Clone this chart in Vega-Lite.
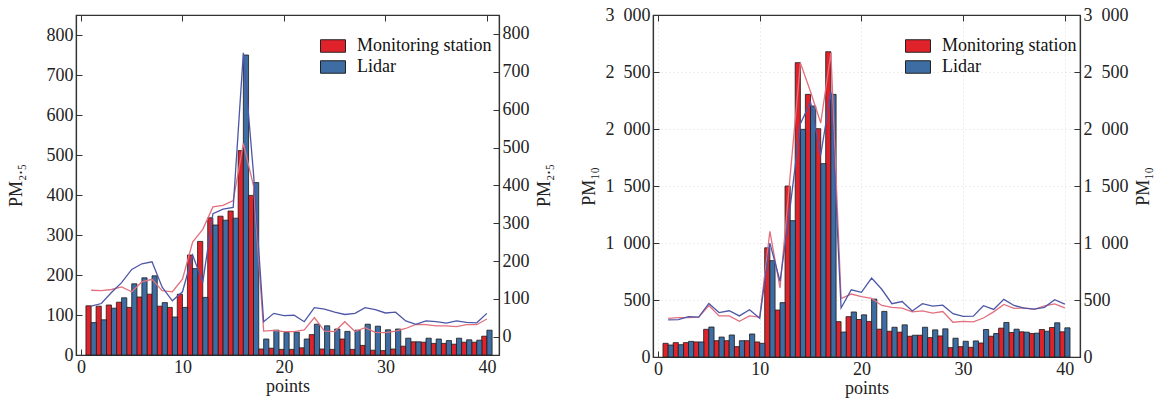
{
  "$schema": "https://vega.github.io/schema/vega-lite/v6.json",
  "padding": {"left": 6, "right": 2, "top": 5, "bottom": 2},
  "background": "white",
  "config": {
    "font": "'Liberation Serif', 'DejaVu Serif', serif",
    "view": {"stroke": "#333", "strokeWidth": 1.2},
    "axis": {
      "labelFont": "'Liberation Serif', 'DejaVu Serif', serif", "labelFontSize": 18, "labelColor": "#222",
      "titleFont": "'Liberation Serif', 'DejaVu Serif', serif", "titleFontSize": 18, "titleFontWeight": "normal", "titleColor": "#222",
      "domainColor": "#333", "domainWidth": 1.2, "tickColor": "#333", "tickSize": -6, "labelPadding": 9, "grid": false
    },
    "legend": {
      "labelFont": "'Liberation Serif', 'DejaVu Serif', serif", "labelFontSize": 18, "labelColor": "#111",
      "symbolType": "M-2,-1H2V1H-2Z", "symbolSize": 156, "symbolStrokeColor": "#222", "symbolStrokeWidth": 1,
      "symbolOpacity": 1, "rowPadding": 3, "labelOffset": 15, "padding": 0
    }
  },
  "datasets": {
    "pm25": [
      {"point": 1, "station": 123, "lidar": 81},
      {"point": 2, "station": 122, "lidar": 88},
      {"point": 3, "station": 125, "lidar": 117},
      {"point": 4, "station": 132, "lidar": 143},
      {"point": 5, "station": 119, "lidar": 178},
      {"point": 6, "station": 145, "lidar": 193},
      {"point": 7, "station": 152, "lidar": 198},
      {"point": 8, "station": 122, "lidar": 131},
      {"point": 9, "station": 119, "lidar": 95},
      {"point": 10, "station": 152, "lidar": 119},
      {"point": 11, "station": 250, "lidar": 216},
      {"point": 12, "station": 284, "lidar": 144},
      {"point": 13, "station": 343, "lidar": 325},
      {"point": 14, "station": 347, "lidar": 337},
      {"point": 15, "station": 360, "lidar": 342},
      {"point": 16, "station": 511, "lidar": 750},
      {"point": 17, "station": 399, "lidar": 431},
      {"point": 18, "station": 15, "lidar": 40},
      {"point": 19, "station": 17, "lidar": 62},
      {"point": 20, "station": 14, "lidar": 56},
      {"point": 21, "station": 14, "lidar": 57},
      {"point": 22, "station": 18, "lidar": 40},
      {"point": 23, "station": 51, "lidar": 77},
      {"point": 24, "station": 15, "lidar": 73},
      {"point": 25, "station": 14, "lidar": 65},
      {"point": 26, "station": 40, "lidar": 59},
      {"point": 27, "station": 14, "lidar": 62},
      {"point": 28, "station": 24, "lidar": 77},
      {"point": 29, "station": 12, "lidar": 72},
      {"point": 30, "station": 11, "lidar": 63},
      {"point": 31, "station": 15, "lidar": 65},
      {"point": 32, "station": 22, "lidar": 42},
      {"point": 33, "station": 33, "lidar": 33},
      {"point": 34, "station": 32, "lidar": 42},
      {"point": 35, "station": 29, "lidar": 40},
      {"point": 36, "station": 29, "lidar": 36},
      {"point": 37, "station": 27, "lidar": 42},
      {"point": 38, "station": 32, "lidar": 38},
      {"point": 39, "station": 32, "lidar": 37},
      {"point": 40, "station": 47, "lidar": 62}
    ],
    "pm10": [
      {"point": 1, "station": 120, "lidar": 105},
      {"point": 2, "station": 126, "lidar": 108},
      {"point": 3, "station": 126, "lidar": 137},
      {"point": 4, "station": 132, "lidar": 132},
      {"point": 5, "station": 243, "lidar": 263},
      {"point": 6, "station": 143, "lidar": 175},
      {"point": 7, "station": 143, "lidar": 193},
      {"point": 8, "station": 91, "lidar": 143},
      {"point": 9, "station": 143, "lidar": 202},
      {"point": 10, "station": 132, "lidar": 120},
      {"point": 11, "station": 958, "lidar": 845},
      {"point": 12, "station": 412, "lidar": 477},
      {"point": 13, "station": 1500, "lidar": 1196},
      {"point": 14, "station": 2582, "lidar": 1997},
      {"point": 15, "station": 2304, "lidar": 2202},
      {"point": 16, "station": 2003, "lidar": 1696},
      {"point": 17, "station": 2678, "lidar": 2304},
      {"point": 18, "station": 310, "lidar": 219},
      {"point": 19, "station": 354, "lidar": 395},
      {"point": 20, "station": 329, "lidar": 370},
      {"point": 21, "station": 312, "lidar": 508},
      {"point": 22, "station": 244, "lidar": 400},
      {"point": 23, "station": 226, "lidar": 261},
      {"point": 24, "station": 218, "lidar": 282},
      {"point": 25, "station": 182, "lidar": 191},
      {"point": 26, "station": 191, "lidar": 261},
      {"point": 27, "station": 170, "lidar": 238},
      {"point": 28, "station": 185, "lidar": 247},
      {"point": 29, "station": 82, "lidar": 165},
      {"point": 30, "station": 91, "lidar": 138},
      {"point": 31, "station": 85, "lidar": 141},
      {"point": 32, "station": 123, "lidar": 241},
      {"point": 33, "station": 182, "lidar": 206},
      {"point": 34, "station": 253, "lidar": 303},
      {"point": 35, "station": 215, "lidar": 244},
      {"point": 36, "station": 221, "lidar": 218},
      {"point": 37, "station": 206, "lidar": 209},
      {"point": 38, "station": 241, "lidar": 226},
      {"point": 39, "station": 259, "lidar": 300},
      {"point": 40, "station": 221, "lidar": 256}
    ]
  },
  "spacing": 25,
  "resolve": {"scale": {"color": "independent"}},
  "hconcat": [
    {
      "width": 423, "height": 340,
      "data": {"name": "pm25"},
      "resolve": {"scale": {"y": "independent"}, "axis": {"x": "independent"}},
      "layer": [
        {
          "encoding": {
            "x": {"field": "point", "type": "quantitative", "scale": {"domain": [0, 40.7], "nice": false, "zero": false},
                  "axis": {"values": [0, 10, 20, 30, 40], "title": "points", "titlePadding": 1}}
          },
          "layer": [
            {
              "mark": {"type": "bar", "width": 5.2, "xOffset": -2.6, "stroke": "#1c1c1c", "strokeWidth": 0.8},
              "encoding": {
                "y": {"field": "station", "type": "quantitative", "scale": {"domain": [0, 850], "nice": false},
                      "axis": {"values": [0, 100, 200, 300, 400, 500, 600, 700, 800], "title": "PM₂.₅", "titlePadding": 21}},
                "color": {"datum": "Monitoring station", "type": "nominal",
                          "scale": {"domain": ["Monitoring station", "Lidar"], "range": ["#e0232a", "#3d6da2"]},
                          "legend": {"title": null, "orient": "none", "legendX": 248, "legendY": 22}}
              }
            },
            {
              "mark": {"type": "bar", "width": 5.2, "xOffset": 2.6, "stroke": "#1c1c1c", "strokeWidth": 0.8},
              "encoding": {
                "y": {"field": "lidar", "type": "quantitative", "scale": {"domain": [0, 850], "nice": false},
                      "axis": {"values": [0, 100, 200, 300, 400, 500, 600, 700, 800], "title": "PM₂.₅", "titlePadding": 21}},
                "color": {"datum": "Lidar", "type": "nominal"}
              }
            }
          ]
        },
        {
          "encoding": {
            "x": {"field": "point", "type": "quantitative",
                  "axis": {"orient": "top", "labels": false, "title": null, "values": [0, 10, 20, 30, 40], "domain": true}}
          },
          "layer": [
            {
              "mark": {"type": "line", "color": "#e2707e", "strokeWidth": 1.3},
              "encoding": {
                "y": {"field": "station", "type": "quantitative", "scale": {"domain": [-48, 850], "nice": false, "zero": false},
                      "axis": {"orient": "right", "values": [0, 100, 200, 300, 400, 500, 600, 700, 800], "title": "PM₂.₅", "titleAngle": 270, "titleBaseline": "top", "titlePadding": 6}}
              }
            },
            {
              "mark": {"type": "line", "color": "#4d57a8", "strokeWidth": 1.3},
              "encoding": {
                "y": {"field": "lidar", "type": "quantitative", "scale": {"domain": [-48, 850], "nice": false, "zero": false},
                      "axis": {"orient": "right", "values": [0, 100, 200, 300, 400, 500, 600, 700, 800], "title": "PM₂.₅", "titleAngle": 270, "titleBaseline": "top", "titlePadding": 6}}
              }
            }
          ]
        }
      ]
    },
    {
      "width": 427, "height": 342,
      "data": {"name": "pm10"},
      "resolve": {"scale": {"y": "independent"}, "axis": {"x": "independent"}},
      "layer": [
        {
          "encoding": {
            "x": {"field": "point", "type": "quantitative", "scale": {"domain": [0, 41], "nice": false, "zero": false},
                  "axis": {"values": [0, 10, 20, 30, 40], "title": "points", "titlePadding": 1, "grid": true, "gridColor": "#d4d4d4", "gridDash": [1, 3], "gridWidth": 0.8}}
          },
          "layer": [
            {
              "mark": {"type": "bar", "width": 5.2, "xOffset": -2.6, "stroke": "#1c1c1c", "strokeWidth": 0.8},
              "encoding": {
                "y": {"field": "station", "type": "quantitative", "scale": {"domain": [0, 3000], "nice": false},
                      "axis": {"values": [0, 500, 1000, 1500, 2000, 2500, 3000], "title": "PM₁₀", "titlePadding": 7,
                               "labelExpr": "replace(format(datum.value, ','), ',', '\u2002')",
                               "grid": true, "gridColor": "#d4d4d4", "gridDash": [1, 3], "gridWidth": 0.8}},
                "color": {"datum": "Monitoring station", "type": "nominal",
                          "scale": {"domain": ["Monitoring station", "Lidar"], "range": ["#e0232a", "#3d6da2"]},
                          "legend": {"title": null, "orient": "none", "legendX": 256, "legendY": 22}}
              }
            },
            {
              "mark": {"type": "bar", "width": 5.2, "xOffset": 2.6, "stroke": "#1c1c1c", "strokeWidth": 0.8},
              "encoding": {
                "y": {"field": "lidar", "type": "quantitative", "scale": {"domain": [0, 3000], "nice": false},
                      "axis": {"values": [0, 500, 1000, 1500, 2000, 2500, 3000], "title": "PM₁₀", "titlePadding": 7,
                               "labelExpr": "replace(format(datum.value, ','), ',', '\u2002')",
                               "grid": true, "gridColor": "#d4d4d4", "gridDash": [1, 3], "gridWidth": 0.8}},
                "color": {"datum": "Lidar", "type": "nominal"}
              }
            }
          ]
        },
        {
          "encoding": {
            "x": {"field": "point", "type": "quantitative", "axis": null}
          },
          "layer": [
            {
              "mark": {"type": "line", "color": "#e2707e", "strokeWidth": 1.3},
              "encoding": {
                "y": {"field": "station", "type": "quantitative", "scale": {"domain": [-253, 3044], "nice": false, "zero": false}, "axis": null}
              }
            },
            {
              "mark": {"type": "line", "color": "#4d57a8", "strokeWidth": 1.3},
              "encoding": {
                "y": {"field": "lidar", "type": "quantitative", "scale": {"domain": [-253, 3044], "nice": false, "zero": false}, "axis": null}
              }
            }
          ]
        },
        {
          "mark": {"type": "point", "opacity": 0},
          "encoding": {
            "x": {"field": "point", "type": "quantitative",
                  "axis": {"orient": "top", "labels": false, "title": null, "values": [0, 10, 20, 30, 40], "domain": true}},
            "y": {"field": "station", "type": "quantitative", "scale": {"domain": [0, 3000], "nice": false},
                  "axis": {"orient": "right", "values": [0, 500, 1000, 1500, 2000, 2500, 3000], "title": "PM₁₀", "titleAngle": 270, "titleBaseline": "top", "titlePadding": 6,
                           "labelExpr": "replace(format(datum.value, ','), ',', '\u2002')"}}
          }
        }
      ]
    }
  ]
}
